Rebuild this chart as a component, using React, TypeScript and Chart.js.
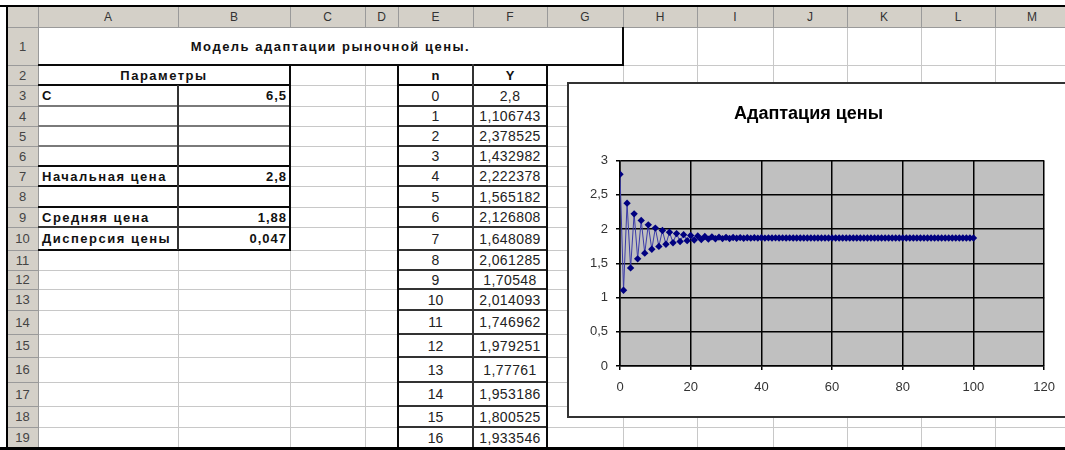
import React, { useEffect, useRef } from 'react';
import { Chart, registerables } from 'chart.js';

Chart.register(...registerables);

// ---------- data ----------
const columnLetters = ['A', 'B', 'C', 'D', 'E', 'F', 'G', 'H', 'I', 'J', 'K', 'L', 'M'];
const rowNumbers = ['1', '2', '3', '4', '5', '6', '7', '8', '9', '10', '11', '12', '13', '14', '15', '16', '17', '18', '19'];
const sheetTitle = 'Модель адаптации рыночной цены.';
const paramsHeader = 'Параметры';
const paramLabels = ['C', '', '', '', 'Начальная цена', '', 'Средняя цена', 'Дисперсия цены'];
const paramValues = ['6,5', '', '', '', '2,8', '', '1,88', '0,047'];
const tableHeaderN = 'n';
const tableHeaderY = 'Y';
const tableN = [0, 1, 2, 3, 4, 5, 6, 7, 8, 9, 10, 11, 12, 13, 14, 15, 16];
const tableY = [2.8, 1.106743, 2.378525, 1.432982, 2.222378, 1.565182, 2.126808, 1.648089, 2.061285, 1.70548,
  2.014093, 1.746962, 1.979251, 1.77761, 1.953186, 1.800525, 1.933546];

const chartTitle = 'Адаптация цены';
// price per step n = 0..100 (first 17 from the table, the rest)
const priceValues = [
  2.8, 1.106743, 2.378525, 1.432982, 2.222378, 1.565182, 2.126808, 1.648089, 2.061285, 1.70548,
  2.014093, 1.746962, 1.979251, 1.77761, 1.953186, 1.800525, 1.933546, 1.8179, 1.9183, 1.8309,
  1.9067, 1.8407, 1.8979, 1.848, 1.8912, 1.8535, 1.8861, 1.8576, 1.8822, 1.8607,
  1.8793, 1.863, 1.8771, 1.8648, 1.8754, 1.8661, 1.8741, 1.8671, 1.8731, 1.8678,
  1.8724, 1.8684, 1.8718, 1.8688, 1.8714, 1.8691, 1.8711, 1.8693, 1.8708, 1.8695,
  1.8706, 1.8696, 1.8705, 1.8697, 1.8704, 1.8698, 1.8703, 1.8698, 1.8702, 1.8699,
  1.8702, 1.8699, 1.8701, 1.8699, 1.8701, 1.87, 1.8701, 1.87, 1.8701, 1.87,
  1.87, 1.87, 1.87, 1.87, 1.87, 1.87, 1.87, 1.87, 1.87, 1.87,
  1.87, 1.87, 1.87, 1.87, 1.87, 1.87, 1.87, 1.87, 1.87, 1.87,
  1.87, 1.87, 1.87, 1.87, 1.87, 1.87, 1.87, 1.87, 1.87, 1.87,
  1.87,
];
const xTicks = { min: 0, max: 120, step: 20 };
const yTicks = { min: 0, max: 3, step: 0.5 };

// ---------- layout ----------
const COLS = [7, 38, 178, 290, 365, 398, 473, 547, 623, 697, 773, 847, 921, 995, 1069];
const ROWS = [7, 27, 65, 85, 106, 126, 146, 166, 186, 207, 227, 250, 270, 289, 310, 334, 357, 382, 406, 427, 448];
const FONT = '"Liberation Sans", Arial, sans-serif';
const W = 1065;
const H = 450;

function box(key: string, x: number, y: number, w: number, h: number, bg: string) {
  return <div key={key} style={{ position: 'absolute', left: x, top: y, width: w, height: h, background: bg }} />;
}
function hl(key: string, x1: number, x2: number, y: number, t: number, c: string) {
  return box(key, x1, y - t / 2, x2 - x1, t, c);
}
function vl(key: string, x: number, y1: number, y2: number, t: number, c: string) {
  return box(key, x - t / 2, y1, t, y2 - y1, c);
}
function txt(key: string, x1: number, x2: number, y1: number, y2: number, s: string, opts: any = {}) {
  return (
    <div key={key} style={{
      position: 'absolute', left: x1, top: y1, width: x2 - x1, height: y2 - y1,
      display: 'flex', alignItems: 'center',
      justifyContent: opts.align === 'left' ? 'flex-start' : opts.align === 'right' ? 'flex-end' : 'center',
      paddingLeft: opts.align === 'left' ? 4 : 0, paddingRight: opts.align === 'right' ? 3 : 0,
      boxSizing: 'border-box', fontFamily: FONT, fontSize: opts.size || 13,
      fontWeight: opts.bold ? 'bold' : 'normal', letterSpacing: opts.ls ?? 0,
      color: opts.color || '#111', whiteSpace: 'nowrap', overflow: 'visible',
    }}>{s}</div>
  );
}

const plotBg = {
  id: 'plotBg',
  beforeDraw(chart: any) {
    const { ctx, chartArea: a } = chart;
    ctx.save();
    ctx.fillStyle = '#ffffff';
    ctx.fillRect(0, 0, chart.width, chart.height);
    ctx.fillStyle = '#c0c0c0';
    ctx.fillRect(a.left, a.top, a.right - a.left, a.bottom - a.top);
    ctx.restore();
  },
};

export default function App() {
  const canvasRef = useRef<HTMLCanvasElement>(null);

  useEffect(() => {
    const chart = new Chart(canvasRef.current!, {
      type: 'scatter',
      data: {
        datasets: [{
          data: priceValues.map((y, i) => ({ x: i, y })),
          showLine: true,
          borderColor: '#3a3aa8',
          borderWidth: 1,
          pointStyle: 'rectRot',
          pointRadius: 3.7,
          pointBackgroundColor: '#000080',
          pointBorderColor: '#000080',
          pointBorderWidth: 0,
        }],
      },
      options: {
        animation: false,
        responsive: false,
        layout: { padding: { left: 0, right: 17, top: 0, bottom: 0 } },
        plugins: {
          legend: { display: false },
          tooltip: { enabled: false },
          title: {
            display: true, text: chartTitle, color: '#000',
            font: { family: FONT, size: 18, weight: 'bold' },
            padding: { top: 19, bottom: 36 },
          },
        },
        scales: {
          x: {
            type: 'linear', min: xTicks.min, max: xTicks.max,
            ticks: { stepSize: xTicks.step, padding: 10, color: '#333', font: { family: FONT, size: 13 }, maxRotation: 0 },
            grid: { color: '#000', lineWidth: 1.5, tickLength: 4, tickColor: '#000' },
            border: { color: '#000', width: 1.5 },
            afterFit(s: any) { s.height = 50; },
          },
          y: {
            type: 'linear', min: yTicks.min, max: yTicks.max,
            ticks: {
              stepSize: yTicks.step, padding: 8, color: '#333', font: { family: FONT, size: 13 },
              callback: (v: any) => String(v).replace('.', ','),
            },
            grid: { color: '#000', lineWidth: 1.5, tickLength: 4, tickColor: '#000' },
            border: { color: '#000', width: 1.5 },
            afterFit(s: any) { s.width = 51; },
          },
        },
      },
      plugins: [plotBg],
    } as any);
    return () => chart.destroy();
  }, []);

  const els: any[] = [];
  const GRID = '#c8c8c8';
  const HDR = '#d4d0c8';
  const HDRLINE = '#9a9a9a';
  const THICK = '#0a0a0a';
  const MED = '#333333';
  const THIN = '#7a7a7a';

  // light gridlines
  for (let k = 2; k < ROWS.length - 1; k++) els.push(hl('gh' + k, 38, W, ROWS[k], 1, GRID));
  for (let j = 2; j < COLS.length - 1; j++) {
    const x = COLS[j];
    const top = x > 623 ? ROWS[1] : ROWS[2];
    els.push(vl('gv' + j, x, top, ROWS[ROWS.length - 1], 1, GRID));
  }

  // headers
  els.push(box('ch', 7, 7, W - 7, 20, HDR));
  els.push(box('rh', 7, 27, 31, 421, HDR));
  for (let j = 1; j < COLS.length; j++) els.push(vl('chs' + j, COLS[j], 7, 27, 1, HDRLINE));
  els.push(hl('chb', 7, W, 27, 1, HDRLINE));
  for (let k = 2; k < ROWS.length; k++) els.push(hl('rhs' + k, 7, 38, ROWS[k], 1, HDRLINE));
  els.push(vl('rhr', 38, 7, 448, 1, HDRLINE));
  columnLetters.forEach((c, j) => els.push(txt('cl' + j, COLS[j + 1], COLS[j + 2], 7, 27, c, { size: 12, color: '#333' })));
  rowNumbers.forEach((r, k) => els.push(txt('rn' + k, 7, 38, ROWS[k + 1], ROWS[k + 2], r, { size: 13, color: '#444' })));

  // row 1 title box
  els.push(hl('t1b', 38, 623, 65, 2.5, THICK));
  els.push(vl('t1r', 623, 27, 66, 2.5, THICK));
  els.push(txt('title', 38, 623, 27, 65, sheetTitle, { bold: true, size: 13, ls: 1.5 }));

  // parameters table
  els.push(box('pw', 39, 66, 250, 183, '#fff'));
  els.push(txt('ph', 38, 290, 65, 85, paramsHeader, { bold: true, size: 13, ls: 1.5 }));
  const pLines = [THICK, THIN, THIN, THIN, THICK, THICK, THICK, MED, THICK];
  pLines.forEach((c, i) => els.push(hl('pl' + i, 38, 291, ROWS[3 + i], c === THIN ? 2 : 2.5, c)));
  els.push(vl('pv1', 178, 85, 250, 2, MED));
  els.push(vl('pv2', 290, 64, 251, 2.5, THICK));
  paramLabels.forEach((s, i) => {
    if (s) els.push(txt('pla' + i, 38, 178, ROWS[3 + i], ROWS[4 + i], s, { bold: true, size: 13, ls: 1.5, align: 'left' }));
  });
  paramValues.forEach((s, i) => {
    if (s) els.push(txt('plv' + i, 178, 290, ROWS[3 + i], ROWS[4 + i], s, { bold: true, size: 13, ls: 1, align: 'right' }));
  });

  // n / Y table
  els.push(box('tw', 399, 66, 147, 382, '#fff'));
  for (let k = 4; k < ROWS.length - 1; k++) els.push(hl('tl' + k, 398, 548, ROWS[k], 2, MED));
  els.push(hl('tl3', 398, 548, ROWS[3], 2.5, THICK));
  els.push(vl('tv1', 398, 64, 448, 2.5, THICK));
  els.push(vl('tv2', 473, 64, 448, 2, MED));
  els.push(vl('tv3', 547, 64, 448, 2.5, THICK));
  els.push(txt('thn', 398, 473, 65, 85, tableHeaderN, { bold: true, size: 13 }));
  els.push(txt('thy', 473, 547, 65, 85, tableHeaderY, { bold: true, size: 13 }));
  tableN.forEach((n, i) => els.push(txt('tn' + i, 398, 473, ROWS[3 + i], ROWS[4 + i], String(n), { size: 14, color: '#222' })));
  tableY.forEach((y, i) => els.push(txt('ty' + i, 473, 547, ROWS[3 + i], ROWS[4 + i], String(y).replace('.', ','), { size: 14, ls: 0.4, color: '#222' })));

  // frame
  els.push(hl('ft', 0, W, 6, 2, '#000'));
  els.push(vl('fl', 7, 5, H, 2, '#000'));
  els.push(hl('fb', 0, W, 448.5, 3, '#000'));

  return (
    <div style={{ position: 'fixed', left: 0, top: 0, width: W, height: H, overflow: 'hidden', background: '#fff' }}>
      {els}
      <div style={{
        position: 'absolute', left: 567, top: 82, width: 520, height: 336, boxSizing: 'border-box',
        border: '2px solid #333', background: '#fff',
      }}>
        <canvas ref={canvasRef} width={496} height={332} style={{ display: 'block' }} />
      </div>
    </div>
  );
}
